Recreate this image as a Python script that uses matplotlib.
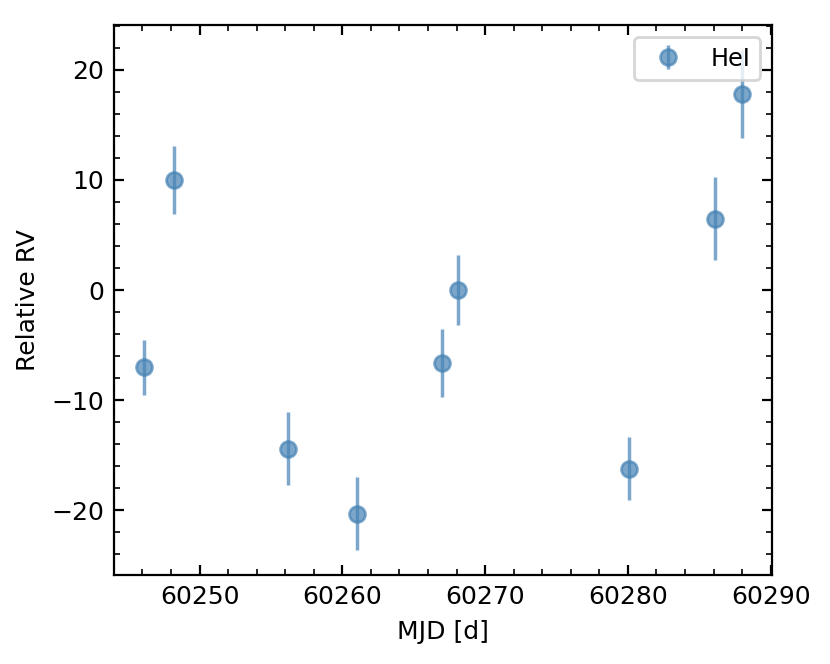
import matplotlib
matplotlib.use("Agg")
import matplotlib.pyplot as plt
from matplotlib.ticker import AutoMinorLocator

mjd = [60246.1, 60248.2, 60256.2, 60261.0, 60267.0, 60268.1, 60280.1, 60286.1, 60288.0]
rv = [-7.0, 10.0, -14.4, -20.3, -6.6, 0.0, -16.2, 6.5, 17.8]
rv_err = [2.5, 3.1, 3.3, 3.3, 3.1, 3.2, 2.85, 3.8, 4.0]

plt.rcParams['font.size'] = 9
fig = plt.figure(figsize=(4.15, 3.32), dpi=200)
ax = fig.add_axes([114/830, 89/664, 658/830, 550/664])
ax.errorbar(mjd, rv, yerr=rv_err, fmt='o', color='steelblue', alpha=0.7,
            markersize=5.7, elinewidth=1.25, label='HeI')
ax.set_xlabel('MJD [d]')
ax.set_ylabel('Relative RV')
ax.xaxis.set_minor_locator(AutoMinorLocator(5))
ax.yaxis.set_minor_locator(AutoMinorLocator(5))
ax.tick_params(which='both', direction='in', top=True, right=True)
ax.legend(loc='upper right', fontsize=8.6)
fig.savefig('out.png', dpi=200)
